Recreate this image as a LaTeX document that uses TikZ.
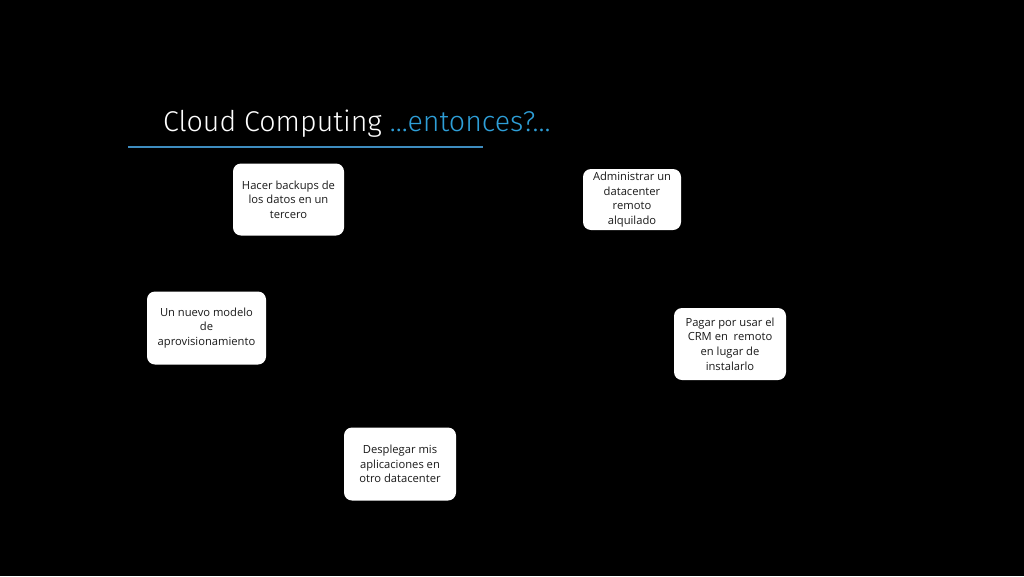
\documentclass[tikz,border=0pt]{standalone}
\usepackage{fontspec}
\setmainfont{Open Sans}
\newfontfamily\titlefont{Fira Sans Light}
\definecolor{titleblue}{HTML}{2E9FD8}
\definecolor{rulecol}{HTML}{3E8CBF}
\definecolor{boxtext}{HTML}{1A1A1A}
\begin{document}
\begin{tikzpicture}[x=1pt,y=-1pt,
  card/.style={draw=none,fill=white,rounded corners=8pt,align=center,
    text=boxtext,font=\fontsize{11.2}{14.6}\selectfont,inner sep=0pt},
]
\fill[black] (0,0) rectangle (1024,576);
\useasboundingbox (0,0) rectangle (1024,576);
% title
\node[anchor=base west,inner sep=0pt,text=white,font=\titlefont\fontsize{28.6}{32}\selectfont] (title) at (163,131)
  {Cloud Computing \textcolor{titleblue}{…entonces?…}};
\coordinate (rl) at (128,147);
\coordinate (rr) at (483,147);
\draw[rulecol,line width=2pt] (rl) -- (rr);
% cards
\node[card,minimum width=111pt,minimum height=72pt] (backup) at (288.5,199.5) {Hacer backups de\\los datos en un\\tercero};
\node[card,minimum width=119pt,minimum height=73pt] (modelo) at (206.5,328) {Un nuevo modelo\\de\\aprovisionamiento};
\node[card,minimum width=98pt,minimum height=61pt] (admin) at (632,199.5) {Administrar un\\datacenter\\remoto\\alquilado};
\node[card,minimum width=112pt,minimum height=72pt] (pagar) at (730,344) {Pagar por usar el\\CRM en~ remoto\\en lugar de\\instalarlo};
\node[card,minimum width=112pt,minimum height=73pt] (desplegar) at (400,464) {Desplegar mis\\aplicaciones en\\otro datacenter};
\end{tikzpicture}
\end{document}
